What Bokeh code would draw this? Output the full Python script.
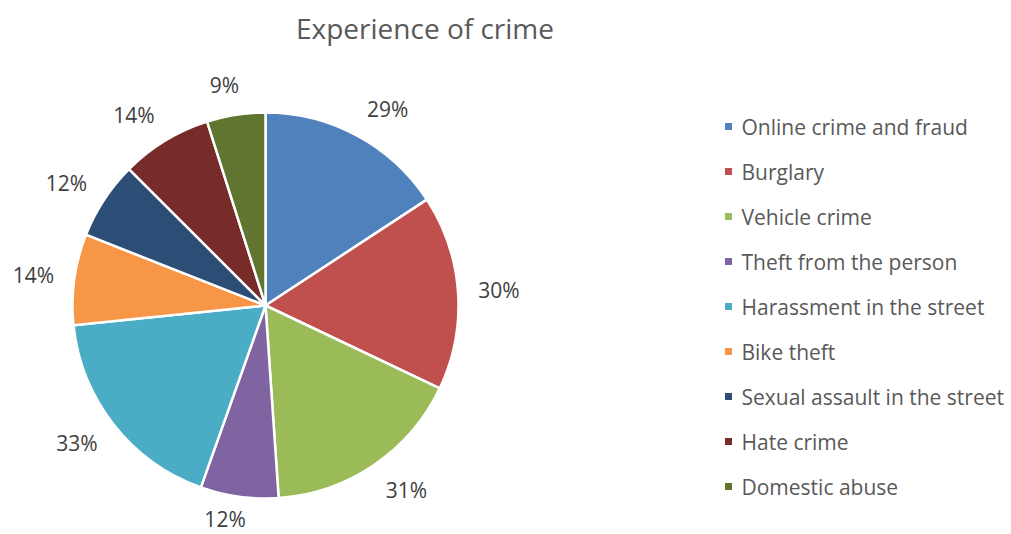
import math
from bokeh.plotting import figure
from bokeh.models import Range1d, ColumnDataSource
from bokeh.core.properties import value
from bokeh.embed import file_html
from bokeh.resources import INLINE

categories = ["Online crime and fraud", "Burglary", "Vehicle crime", "Theft from the person",
              "Harassment in the street", "Bike theft", "Sexual assault in the street",
              "Hate crime", "Domestic abuse"]
values = [29, 30, 31, 12, 33, 14, 12, 14, 9]
labels = ["29%", "30%", "31%", "12%", "33%", "14%", "12%", "14%", "9%"]
colors = ["#4F81BD", "#C0504D", "#9BBB59", "#8064A2", "#4BACC6",
          "#F79646", "#2C4D75", "#772C2A", "#5F7530"]

W, H = 1011, 534
FONT = "Open Sans"
cx, cy, R = 265, H - 305, 193
LR = R + 20

total = float(sum(values))
starts, ends, lx, ly = [], [], [], []
cum = 0.0
for v, lab in zip(values, labels):
    a0 = math.pi / 2 - cum / total * 2 * math.pi
    cum += v
    a1 = math.pi / 2 - cum / total * 2 * math.pi
    starts.append(a0)
    ends.append(a1)
    mid = (a0 + a1) / 2
    dx, dy = math.cos(mid), math.sin(mid)
    hw, hh = len(lab) * 7.0, 10.0
    x = cx + LR * dx + hw * max(-1.0, min(1.0, 4 * dx))
    y = cy + LR * dy + hh * dy
    lx.append(x)
    ly.append(max(y, 16))

p = figure(width=W, height=H, output_backend="svg", toolbar_location=None,
           x_range=Range1d(0, W), y_range=Range1d(0, H), min_border=0)
p.axis.visible = False
p.grid.visible = False
p.outline_line_color = None
p.background_fill_color = "white"
p.border_fill_color = "white"

src = ColumnDataSource(dict(start=starts, end=ends, color=colors, x=lx, y=ly, label=labels))
p.wedge(x=cx, y=cy, radius=R, start_angle="start", end_angle="end", direction="clock",
        fill_color="color", line_color="white", line_width=2.5, source=src)
p.text(x="x", y="y", text="label", source=src, text_align="center", text_baseline="middle",
       text_font=value(FONT), text_font_size="21px", text_color="#404040")

p.text(x=[424.5], y=[H - 27], text=["Experience of crime"], text_align="center",
       text_baseline="middle", text_font=value(FONT), text_font_size="28px", text_color="#595959")

leg_y = [H - (126 + 45 * i) for i in range(len(categories))]
p.rect(x=[728] * len(categories), y=leg_y, width=7, height=7, fill_color=colors, line_color=None)
p.text(x=[741] * len(categories), y=leg_y, text=categories, text_align="left",
       text_baseline="middle", text_font=value(FONT), text_font_size="21px", text_color="#595959")

open("out.html", "w").write(file_html(p, INLINE))
